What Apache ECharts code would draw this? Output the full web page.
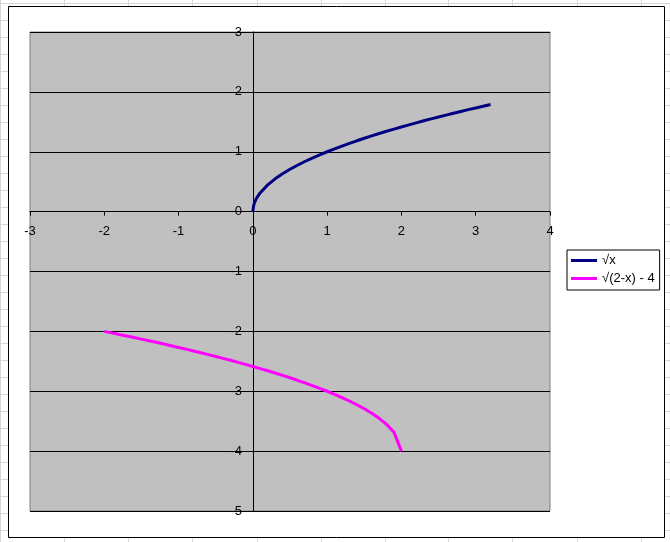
<!DOCTYPE html>
<html>
<head>
<meta charset="utf-8">
<script src="https://cdn.jsdelivr.net/npm/echarts@6/dist/echarts.min.js"></script>
<style>
html,body{margin:0;padding:0;background:#fff;}
#c{width:670px;height:542px;}
</style>
</head>
<body>
<div id="c"></div>
<script>
// Data
var sqrtX = [0,0.01,0.03,0.05,0.1,0.2,0.3,0.4,0.5,0.6,0.7,0.8,0.9,1.0,1.1,1.2,1.3,1.4,1.5,1.6,1.7,1.8,1.9,2.0,2.1,2.2,2.3,2.4,2.5,2.6,2.7,2.8,2.9,3.0,3.1,3.2];
var sqrtY = [0,0.1,0.173,0.224,0.316,0.447,0.548,0.632,0.707,0.775,0.837,0.894,0.949,1.0,1.049,1.095,1.140,1.183,1.225,1.265,1.304,1.342,1.378,1.414,1.449,1.483,1.517,1.549,1.581,1.612,1.643,1.673,1.703,1.732,1.761,1.789];
var shiftX = [-2.0,-1.9,-1.8,-1.7,-1.6,-1.5,-1.4,-1.3,-1.2,-1.1,-1.0,-0.9,-0.8,-0.7,-0.6,-0.5,-0.4,-0.3,-0.2,-0.1,0,0.1,0.2,0.3,0.4,0.5,0.6,0.7,0.8,0.9,1.0,1.1,1.2,1.3,1.4,1.5,1.6,1.7,1.8,1.9,2.0];
var shiftY = [-2.0,-2.025,-2.051,-2.076,-2.103,-2.129,-2.156,-2.183,-2.211,-2.239,-2.268,-2.297,-2.327,-2.357,-2.388,-2.419,-2.451,-2.483,-2.517,-2.551,-2.586,-2.622,-2.658,-2.696,-2.735,-2.775,-2.817,-2.860,-2.905,-2.951,-3.0,-3.051,-3.106,-3.163,-3.225,-3.293,-3.368,-3.452,-3.553,-3.684,-4.0];
var seriesNames = ['\u221Ax', '\u221A(2-x) - 4'];
var xTicks = {min:-3, max:4, interval:1};
var yTicks = {min:-5, max:3, interval:1};

function pairs(xs, ys){ return xs.map(function(x,i){ return [x, ys[i]]; }); }

// spreadsheet background decoration
var deco = [];
var colX = [0,64,128,192,257,321,385,448,512,577,641];
colX.forEach(function(x){
  deco.push({type:'line', z:-10, silent:true, shape:{x1:x+0.5,y1:0,x2:x+0.5,y2:542}, style:{stroke:'#d6d6d6', lineWidth:1}});
});
for (var y = 3; y < 542; y += 17) {
  deco.push({type:'line', z:-10, silent:true, shape:{x1:0,y1:y+0.5,x2:670,y2:y+0.5}, style:{stroke:'#d6d6d6', lineWidth:1}});
}
deco.push({type:'rect', z:-5, silent:true, shape:{x:8.5,y:6.5,width:656,height:531}, style:{fill:'#fff', stroke:'#000', lineWidth:1}});

var G = {left:30, top:32, width:520, height:479};
var chart = echarts.init(document.getElementById('c'), null, {renderer:'canvas'});
var font = 'Liberation Sans, Arial, sans-serif';
chart.setOption({
  animation: false,
  backgroundColor: '#fff',
  graphic: deco,
  grid: {left:G.left, top:G.top, width:G.width, height:G.height, show:true, backgroundColor:'#c0c0c0', borderColor:'#808080', borderWidth:1, containLabel:false},
  legend: {
    orient:'vertical', left:567, top:250,
    data: seriesNames.map(function(n){ return {name:n, icon:'rect'}; }),
    itemWidth:26, itemHeight:3, itemGap:5,
    padding:[4,5,5,4],
    borderColor:'#000', borderWidth:1, backgroundColor:'#fff',
    textStyle:{fontFamily:font, fontSize:13, color:'#000'}
  },
  xAxis: {
    type:'value', min:xTicks.min, max:xTicks.max, interval:xTicks.interval, position:'bottom',
    axisLine:{show:true, onZero:false, lineStyle:{color:'#000', width:1}},
    axisTick:{show:true, length:4, lineStyle:{color:'#000'}},
    axisLabel:{fontFamily:font, fontSize:13, color:'#000', margin:13, showMinLabel:true, showMaxLabel:true},
    splitLine:{show:false}
  },
  yAxis: {
    type:'value', min:yTicks.min, max:yTicks.max, interval:yTicks.interval, position:'left',
    axisLine:{show:true, onZero:false, lineStyle:{color:'#000', width:1}},
    axisTick:{show:true, length:4, lineStyle:{color:'#000'}},
    axisLabel:{fontFamily:font, fontSize:13, color:'#000', margin:11, showMinLabel:true, showMaxLabel:true},
    splitLine:{show:true, lineStyle:{color:'#000', width:1}}
  },
  series: [
    {name:seriesNames[0], type:'line', data:pairs(sqrtX, sqrtY), showSymbol:false, symbol:'none',
     itemStyle:{color:'#000080'}, lineStyle:{color:'#000080', width:3}},
    {name:seriesNames[1], type:'line', data:pairs(shiftX, shiftY), showSymbol:false, symbol:'none',
     itemStyle:{color:'#ff00ff'}, lineStyle:{color:'#ff00ff', width:3}}
  ]
});
// move both axes so they cross at the origin, using the library's own scale
var origin = chart.convertToPixel({gridIndex:0}, [0, 0]);
chart.setOption({
  xAxis: {offset: -((G.top + G.height) - origin[1])},
  yAxis: {offset: -(origin[0] - G.left)}
});
</script>
</body>
</html>
